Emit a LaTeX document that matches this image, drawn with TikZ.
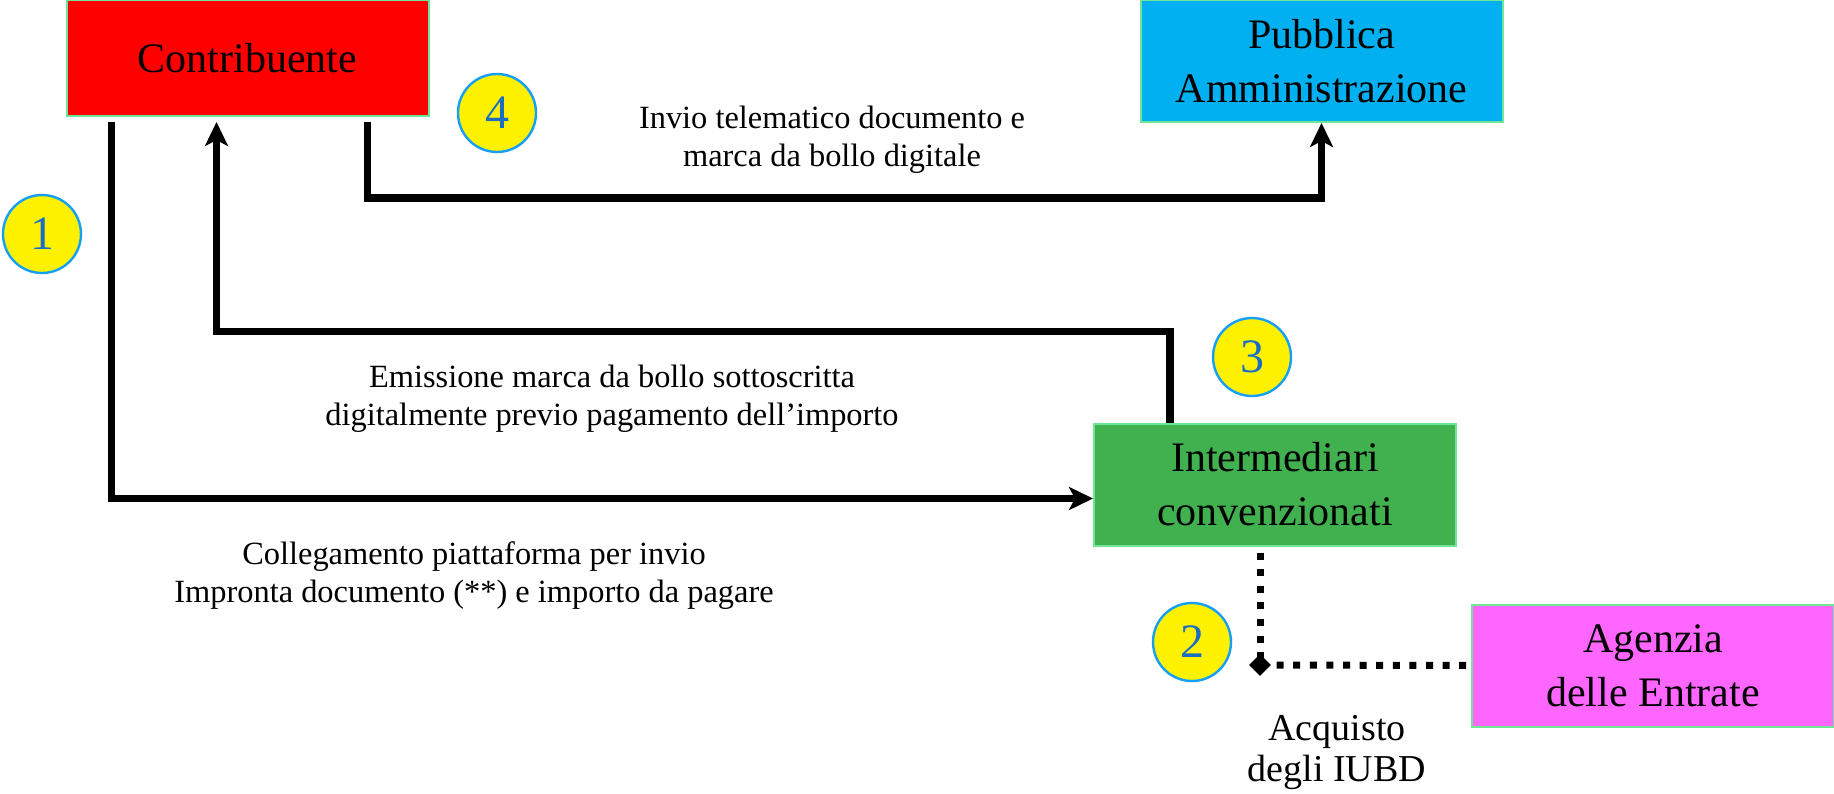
\documentclass[tikz,border=0pt]{standalone}
\usepackage{fontspec}
\setmainfont{Liberation Serif}
\usetikzlibrary{arrows.meta,shapes.geometric}

\definecolor{boxred}{RGB}{255,0,0}
\definecolor{boxblue}{RGB}{0,176,240}
\definecolor{boxgreen}{RGB}{65,176,79}
\definecolor{boxpink}{RGB}{255,102,255}
\definecolor{boxedge}{RGB}{110,230,150}
\definecolor{numedge}{RGB}{20,160,250}
\definecolor{numtext}{RGB}{25,110,195}

\begin{document}
\begin{tikzpicture}[x=0.5pt,y=-0.5pt,
        boxnode/.style={draw=boxedge,line width=1pt,minimum width=181pt,minimum height=61pt,
          align=center,inner sep=2pt,font=\fontsize{21}{27}\selectfont},
        numnode/.style={circle,draw=numedge,fill=yellow,line width=1.2pt,minimum size=39pt,
          inner sep=0pt,text=numtext,font=\fontsize{24}{28}\selectfont},
        lbl/.style={align=center,font=\fontsize{16.2}{19}\selectfont},
        flow/.style={line width=3.75pt,-{Stealth[length=12pt,width=11.5pt,inset=3pt]}},
        dotflow/.style={line width=3.5pt,dash pattern=on 3.5pt off 4.8pt}]

      \useasboundingbox (0,0) rectangle (1834,793);

      %%%% The four actors %%%%
      \node[boxnode,fill=boxred,minimum height=58pt] (contrib) at (247.5,58) {Contribuente};
      \node[boxnode,fill=boxblue] (pa) at (1321.5,61) {Pubblica\\Amministrazione};
      \node[boxnode,fill=boxgreen] (inter) at (1275,484.5) {Intermediari\\convenzionati};
      \node[boxnode,fill=boxpink] (agenzia) at (1653,665.5) {Agenzia\\delle Entrate};

      %% Step numbers
      \foreach \n/\x/\y in {1/42/234,2/1192/642,3/1252/357,4/497/113}{
        \node[numnode] (n\n) at (\x,\y) {\n};
      }

      %%%% Connectors %%%%
      %% 1: Contribuente -> Intermediari
      \draw[flow] ([xshift=23pt,yshift=-2.5pt]contrib.south west) |- ([yshift=-7pt]inter.west);
      %% 3: Intermediari -> Contribuente
      \draw[flow] ([xshift=38.5pt]inter.north west) -- ++(0,45.5pt)
        -| ([xshift=75.5pt,yshift=-2.5pt]contrib.south west);
      %% 4: Contribuente -> Pubblica Amministrazione
      \draw[flow] ([xshift=151pt,yshift=-2.5pt]contrib.south west) -- ++(0,-38pt) -| (pa.south);
      %% 2: Intermediari -- Agenzia (dotted)
      \node[diamond,fill=black,inner sep=0pt,minimum width=11pt,minimum height=11pt] (corner) at (1260,665) {};
      \draw[dotflow] ([xshift=-7.5pt,yshift=-3pt]inter.south) -- (corner.center);
      \draw[dotflow] (corner.center) -- (agenzia.west);

      %% Texts on the connectors
      \node[lbl] (lblinvio) at (832,140) {Invio telematico documento e\\marca da bollo digitale};
      \node[lbl] (lblemiss) at (612,399) {Emissione marca da bollo sottoscritta\\digitalmente previo pagamento dell’importo};
      \node[lbl] (lblcoll) at (474,576) {Collegamento piattaforma per invio\\Impronta documento (**) e importo da pagare};
      \node[lbl,font=\fontsize{19}{20.5}\selectfont] (lblacq) at (1337,753) {Acquisto\\degli IUBD};

\end{tikzpicture}
\end{document}
